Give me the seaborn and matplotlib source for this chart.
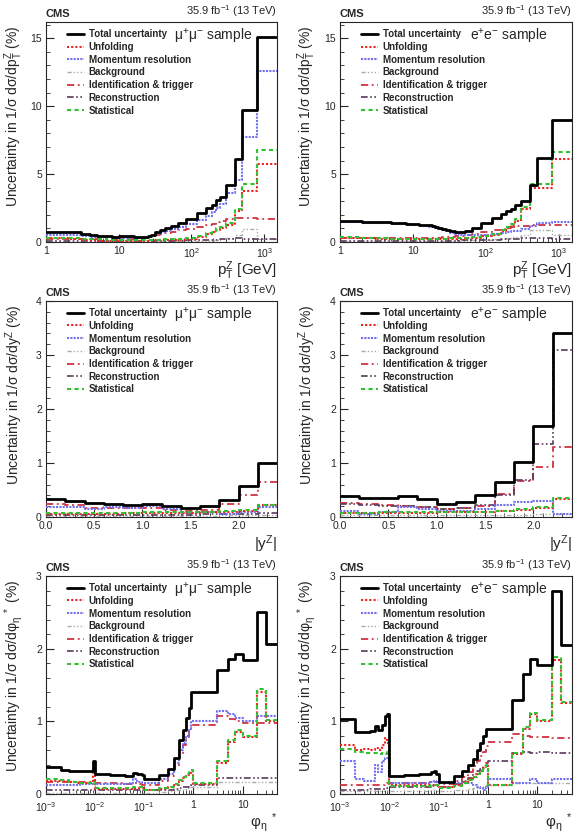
import numpy as np
import pandas as pd
import matplotlib
matplotlib.use("Agg")
import matplotlib.pyplot as plt
from matplotlib.ticker import AutoMinorLocator, FixedLocator, NullFormatter, LogLocator
import seaborn as sns

sns.set_style("ticks")
plt.rcParams['font.family'] = ['Liberation Sans', 'DejaVu Sans']
plt.rcParams['mathtext.fontset'] = 'custom'
plt.rcParams['mathtext.rm'] = 'Liberation Sans'
plt.rcParams['mathtext.it'] = 'Liberation Sans:italic'
plt.rcParams['mathtext.bf'] = 'Liberation Sans:bold'

# ---------------- data ----------------
sources = ["Total uncertainty", "Unfolding", "Momentum resolution", "Background",
           "Identification & trigger", "Reconstruction", "Statistical"]

pt_edges = [1, 2, 3, 4, 5, 6, 7, 8, 9, 10, 11, 12, 13, 14, 16, 18, 20, 22, 25, 28, 32, 37, 43,
            52, 65, 85, 120, 160, 190, 220, 250, 300, 400, 500, 800, 1500]

mu_pt_total = [0.75, 0.72, 0.62, 0.52, 0.46, 0.43, 0.41, 0.40, 0.40, 0.41, 0.42, 0.43, 0.43, 0.42, 0.40,
               0.38, 0.37, 0.38, 0.45, 0.55, 0.70, 0.85, 1.00, 1.15, 1.38, 1.67, 2.11, 2.48, 2.72, 3.09,
               3.34, 4.20, 6.09, 9.72, 15.07]
mu_pt_unf = [0.28, 0.22, 0.15, 0.12, 0.10, 0.10, 0.10, 0.10, 0.10, 0.10, 0.10, 0.10, 0.10, 0.10, 0.10,
             0.10, 0.10, 0.10, 0.10, 0.12, 0.12, 0.13, 0.14, 0.15, 0.18, 0.25, 0.40, 0.58, 0.75, 0.92,
             1.02, 1.25, 2.30, 3.78, 5.74]
mu_pt_mom = [0.55, 0.52, 0.45, 0.40, 0.37, 0.35, 0.34, 0.34, 0.33, 0.33, 0.33, 0.33, 0.32, 0.32, 0.30,
             0.29, 0.28, 0.30, 0.36, 0.45, 0.57, 0.70, 0.82, 0.95, 1.10, 1.30, 1.62, 1.95, 2.20, 2.50,
             2.80, 3.60, 4.60, 7.75, 12.60]
mu_pt_bkg = [0.03, 0.03, 0.03, 0.03, 0.03, 0.03, 0.03, 0.03, 0.03, 0.03, 0.03, 0.03, 0.03, 0.03, 0.03,
             0.03, 0.03, 0.03, 0.03, 0.03, 0.04, 0.04, 0.04, 0.05, 0.05, 0.06, 0.08, 0.10, 0.13, 0.16,
             0.20, 0.30, 0.55, 0.95, 0.25]
mu_pt_id = [0.22, 0.22, 0.21, 0.21, 0.21, 0.21, 0.21, 0.22, 0.22, 0.22, 0.23, 0.23, 0.24, 0.24, 0.25,
            0.27, 0.28, 0.30, 0.35, 0.42, 0.50, 0.58, 0.65, 0.75, 0.85, 0.98, 1.12, 1.25, 1.35, 1.45,
            1.55, 1.68, 1.75, 1.75, 1.72]
mu_pt_rec = [0.08, 0.08, 0.08, 0.08, 0.08, 0.08, 0.08, 0.08, 0.08, 0.08, 0.08, 0.08, 0.08, 0.08, 0.08,
             0.08, 0.08, 0.08, 0.08, 0.09, 0.09, 0.10, 0.10, 0.10, 0.11, 0.12, 0.13, 0.15, 0.17, 0.18,
             0.20, 0.25, 0.30, 0.25, 0.22]
mu_pt_stat = [0.30, 0.28, 0.25, 0.22, 0.20, 0.19, 0.18, 0.18, 0.17, 0.17, 0.17, 0.17, 0.17, 0.17, 0.17,
              0.16, 0.16, 0.16, 0.16, 0.17, 0.18, 0.18, 0.19, 0.20, 0.22, 0.30, 0.45, 0.65, 0.80, 1.00,
              1.10, 1.40, 2.45, 4.27, 6.80]

e_pt_total = [1.55, 1.50, 1.47, 1.44, 1.42, 1.40, 1.38, 1.36, 1.34, 1.32, 1.30, 1.28, 1.27, 1.25, 1.22,
              1.18, 1.12, 1.05, 0.98, 0.90, 0.82, 0.76, 0.75, 0.80, 1.02, 1.40, 1.75, 2.05, 2.25, 2.45,
              2.70, 3.00, 4.20, 6.15, 9.00]
e_pt_unf = [0.30, 0.26, 0.24, 0.23, 0.22, 0.22, 0.22, 0.22, 0.22, 0.22, 0.22, 0.22, 0.22, 0.22, 0.22,
            0.22, 0.22, 0.22, 0.22, 0.22, 0.23, 0.24, 0.25, 0.27, 0.32, 0.42, 0.55, 0.78, 1.00, 1.25,
            1.55, 2.45, 3.95, 4.00, 6.10]
e_pt_mom = [1.45, 1.42, 1.40, 1.37, 1.35, 1.33, 1.31, 1.29, 1.27, 1.25, 1.23, 1.21, 1.19, 1.17, 1.13,
            1.08, 1.02, 0.95, 0.87, 0.78, 0.68, 0.58, 0.50, 0.48, 0.50, 0.52, 0.58, 0.65, 0.72, 0.78,
            0.82, 0.95, 1.15, 1.40, 1.50]
e_pt_bkg = [0.05, 0.05, 0.05, 0.05, 0.05, 0.05, 0.05, 0.05, 0.05, 0.05, 0.05, 0.05, 0.05, 0.05, 0.05,
            0.05, 0.05, 0.05, 0.05, 0.06, 0.06, 0.07, 0.08, 0.10, 0.12, 0.15, 0.20, 0.25, 0.30, 0.35,
            0.40, 0.55, 0.85, 0.85, 0.50]
e_pt_id = [0.30, 0.29, 0.28, 0.28, 0.28, 0.28, 0.28, 0.28, 0.28, 0.28, 0.28, 0.28, 0.29, 0.29, 0.30,
           0.30, 0.31, 0.32, 0.34, 0.36, 0.38, 0.42, 0.46, 0.52, 0.60, 0.70, 0.85, 0.95, 1.05, 1.10,
           1.15, 1.20, 1.25, 1.28, 1.28]
e_pt_rec = [0.10, 0.10, 0.10, 0.10, 0.10, 0.10, 0.10, 0.10, 0.10, 0.10, 0.10, 0.10, 0.10, 0.10, 0.10,
            0.10, 0.10, 0.10, 0.10, 0.10, 0.11, 0.11, 0.12, 0.13, 0.14, 0.15, 0.17, 0.19, 0.21, 0.23,
            0.25, 0.28, 0.30, 0.30, 0.25]
e_pt_stat = [0.35, 0.30, 0.28, 0.26, 0.25, 0.25, 0.24, 0.24, 0.24, 0.24, 0.24, 0.24, 0.24, 0.25, 0.25,
             0.25, 0.25, 0.25, 0.25, 0.25, 0.26, 0.27, 0.28, 0.30, 0.35, 0.45, 0.60, 0.85, 1.10, 1.35,
             1.70, 2.60, 4.25, 4.25, 6.60]

y_edges = [0.0, 0.2, 0.4, 0.6, 0.8, 1.0, 1.2, 1.4, 1.6, 1.8, 2.0, 2.2, 2.4]

mu_y_total = [0.33, 0.30, 0.26, 0.25, 0.23, 0.25, 0.20, 0.17, 0.21, 0.32, 0.58, 1.00]
mu_y_unf = [0.06, 0.06, 0.06, 0.06, 0.07, 0.07, 0.07, 0.08, 0.09, 0.10, 0.12, 0.22]
mu_y_mom = [0.18, 0.18, 0.15, 0.19, 0.17, 0.21, 0.14, 0.08, 0.10, 0.05, 0.10, 0.19]
mu_y_bkg = [0.02, 0.02, 0.02, 0.02, 0.02, 0.02, 0.02, 0.02, 0.02, 0.03, 0.03, 0.04]
mu_y_id = [0.25, 0.22, 0.17, 0.17, 0.16, 0.16, 0.13, 0.11, 0.13, 0.25, 0.40, 0.65]
mu_y_rec = [0.04, 0.04, 0.04, 0.04, 0.04, 0.04, 0.04, 0.04, 0.05, 0.05, 0.06, 0.08]
mu_y_stat = [0.08, 0.08, 0.08, 0.08, 0.08, 0.09, 0.09, 0.09, 0.10, 0.11, 0.13, 0.23]

e_y_total = [0.39, 0.36, 0.35, 0.38, 0.33, 0.25, 0.28, 0.40, 0.64, 1.01, 1.69, 3.40]
e_y_unf = [0.07, 0.07, 0.08, 0.08, 0.08, 0.09, 0.09, 0.09, 0.11, 0.13, 0.17, 0.33]
e_y_mom = [0.12, 0.05, 0.10, 0.19, 0.15, 0.12, 0.12, 0.15, 0.22, 0.27, 0.29, 0.06]
e_y_bkg = [0.03, 0.03, 0.03, 0.03, 0.03, 0.03, 0.03, 0.03, 0.04, 0.04, 0.05, 0.05]
e_y_id = [0.26, 0.24, 0.22, 0.21, 0.18, 0.15, 0.17, 0.21, 0.42, 0.66, 0.92, 1.30]
e_y_rec = [0.25, 0.23, 0.21, 0.20, 0.18, 0.14, 0.16, 0.22, 0.40, 0.68, 1.35, 3.10]
e_y_stat = [0.08, 0.08, 0.09, 0.09, 0.09, 0.10, 0.10, 0.10, 0.12, 0.14, 0.18, 0.35]

phi_edges = [0.001, 0.002, 0.003, 0.004, 0.005, 0.006, 0.007, 0.008, 0.009, 0.01, 0.02, 0.03, 0.04,
             0.05, 0.06, 0.07, 0.08, 0.09, 0.1, 0.2, 0.3, 0.4, 0.5, 0.6, 0.7, 0.8, 0.9, 1, 3, 5, 7,
             10, 20, 30, 50]

mu_phi_total = [0.37, 0.33, 0.31, 0.32, 0.31, 0.32, 0.31, 0.32, 0.45, 0.27, 0.26, 0.26, 0.25, 0.25,
                0.29, 0.27, 0.27, 0.26, 0.20, 0.26, 0.34, 0.50, 0.74, 0.88, 1.05, 1.18, 1.40, 1.41,
                1.71, 1.86, 1.92, 1.84, 2.50, 2.07]
mu_phi_unf = [0.18, 0.18, 0.16, 0.15, 0.15, 0.15, 0.15, 0.15, 0.35, 0.07, 0.07, 0.07, 0.07, 0.07,
              0.08, 0.08, 0.08, 0.08, 0.05, 0.07, 0.09, 0.13, 0.18, 0.22, 0.26, 0.29, 0.31, 0.14,
              0.43, 0.72, 0.85, 0.78, 1.40, 1.00]
mu_phi_mom = [0.13, 0.13, 0.13, 0.13, 0.14, 0.14, 0.14, 0.14, 0.15, 0.14, 0.14, 0.14, 0.14, 0.15,
              0.20, 0.17, 0.16, 0.15, 0.15, 0.20, 0.28, 0.42, 0.60, 0.70, 0.80, 0.90, 1.00, 1.00,
              1.14, 1.10, 1.05, 1.00, 1.08, 1.08]
mu_phi_bkg = [0.02, 0.02, 0.02, 0.02, 0.02, 0.02, 0.02, 0.02, 0.02, 0.02, 0.02, 0.02, 0.02, 0.02,
              0.02, 0.02, 0.02, 0.02, 0.02, 0.03, 0.04, 0.05, 0.06, 0.07, 0.08, 0.09, 0.10, 0.10,
              0.16, 0.16, 0.16, 0.16, 0.16, 0.16]
mu_phi_id = [0.17, 0.17, 0.16, 0.16, 0.16, 0.16, 0.16, 0.16, 0.17, 0.15, 0.15, 0.15, 0.14, 0.14,
             0.15, 0.14, 0.14, 0.13, 0.13, 0.18, 0.25, 0.38, 0.55, 0.68, 0.78, 0.88, 0.95, 0.95,
             1.08, 1.03, 1.00, 0.98, 0.98, 0.98]
mu_phi_rec = [0.05, 0.05, 0.05, 0.05, 0.05, 0.05, 0.05, 0.05, 0.05, 0.05, 0.05, 0.05, 0.05, 0.05,
              0.05, 0.05, 0.05, 0.05, 0.05, 0.05, 0.06, 0.07, 0.08, 0.09, 0.10, 0.11, 0.12, 0.12,
              0.22, 0.22, 0.22, 0.22, 0.22, 0.22]
mu_phi_stat = [0.20, 0.19, 0.17, 0.16, 0.15, 0.15, 0.15, 0.15, 0.16, 0.08, 0.08, 0.08, 0.08, 0.08,
               0.09, 0.09, 0.09, 0.09, 0.05, 0.08, 0.10, 0.14, 0.19, 0.23, 0.27, 0.31, 0.33, 0.15,
               0.45, 0.75, 0.88, 0.80, 1.45, 1.02]

e_phi_total = [1.03, 0.85, 0.86, 0.87, 0.93, 0.88, 0.95, 1.07, 1.10, 0.25, 0.26, 0.26, 0.27, 0.27,
               0.28, 0.30, 0.32, 0.28, 0.17, 0.25, 0.32, 0.40, 0.48, 0.60, 0.70, 0.80, 0.90, 0.90,
               1.30, 1.65, 1.86, 1.77, 2.80, 2.05]
e_phi_unf = [0.67, 0.60, 0.62, 0.60, 0.63, 0.60, 0.68, 0.77, 0.70, 0.12, 0.12, 0.12, 0.12, 0.12,
             0.12, 0.13, 0.13, 0.13, 0.09, 0.12, 0.16, 0.20, 0.24, 0.28, 0.32, 0.36, 0.42, 0.12,
             0.55, 0.90, 1.10, 1.00, 1.85, 1.25]
e_phi_mom = [0.45, 0.20, 0.18, 0.18, 0.40, 0.30, 0.45, 0.50, 0.50, 0.15, 0.15, 0.15, 0.15, 0.15,
             0.15, 0.16, 0.18, 0.16, 0.15, 0.15, 0.15, 0.15, 0.12, 0.10, 0.08, 0.05, 0.10, 0.20,
             0.15, 0.15, 0.20, 0.15, 0.20, 0.20]
e_phi_bkg = [0.04, 0.04, 0.04, 0.04, 0.04, 0.04, 0.04, 0.04, 0.04, 0.04, 0.04, 0.04, 0.04, 0.04,
             0.04, 0.04, 0.04, 0.04, 0.04, 0.05, 0.06, 0.07, 0.08, 0.09, 0.10, 0.11, 0.12, 0.12,
             0.15, 0.15, 0.15, 0.15, 0.15, 0.15]
e_phi_id = [0.12, 0.13, 0.13, 0.13, 0.13, 0.13, 0.13, 0.14, 0.15, 0.15, 0.15, 0.15, 0.15, 0.15,
            0.16, 0.17, 0.17, 0.17, 0.14, 0.18, 0.24, 0.30, 0.38, 0.45, 0.52, 0.58, 0.66, 0.72,
            0.83, 0.80, 0.78, 0.78, 0.77, 0.77]
e_phi_rec = [0.06, 0.06, 0.06, 0.07, 0.07, 0.07, 0.07, 0.07, 0.08, 0.09, 0.09, 0.10, 0.10, 0.10,
             0.10, 0.11, 0.11, 0.11, 0.10, 0.14, 0.18, 0.22, 0.27, 0.31, 0.35, 0.38, 0.42, 0.45,
             0.57, 0.58, 0.56, 0.58, 0.57, 0.57]
e_phi_stat = [0.62, 0.58, 0.57, 0.57, 0.56, 0.55, 0.56, 0.55, 0.60, 0.11, 0.11, 0.11, 0.11, 0.11,
              0.11, 0.12, 0.12, 0.12, 0.08, 0.11, 0.15, 0.19, 0.23, 0.27, 0.31, 0.35, 0.40, 0.12,
              0.56, 0.92, 1.12, 1.02, 1.88, 1.27]

# ---------------- styles ----------------
styles = {
    "Total uncertainty": dict(color="black", lw=2.0, linestyle="-", zorder=10),
    "Unfolding": dict(color="#ee2020", lw=1.5, linestyle=(0, (1, 1)), zorder=6),
    "Momentum resolution": dict(color="#7070f0", lw=1.5, linestyle=(0, (1, 0.6)), zorder=5),
    "Background": dict(color="#aaaaaa", lw=1.0, linestyle=(0, (3, 1.5, 1, 1.5, 1, 1.5, 1, 1.5)), zorder=3),
    "Identification & trigger": dict(color="#d03040", lw=1.3, linestyle=(0, (4, 2, 1, 2)), zorder=4),
    "Reconstruction": dict(color="#5a3a5a", lw=1.2, linestyle=(0, (4, 1.5, 1, 1.5, 1, 1.5)), zorder=4),
    "Statistical": dict(color="#30c030", lw=1.5, linestyle=(0, (2, 1.6)), zorder=7),
}

W, H = 581, 835
fig = plt.figure(figsize=(W / 100, H / 100), dpi=100)

left_cols = [46 / W, 340 / W]
widths = [231 / W, 232 / W]
rows = [(22, 242), (301, 517), (576, 794)]

panels = [
    (0, 0, pt_edges, [mu_pt_total, mu_pt_unf, mu_pt_mom, mu_pt_bkg, mu_pt_id, mu_pt_rec, mu_pt_stat], "mu", "pt"),
    (0, 1, pt_edges, [e_pt_total, e_pt_unf, e_pt_mom, e_pt_bkg, e_pt_id, e_pt_rec, e_pt_stat], "e", "pt"),
    (1, 0, y_edges, [mu_y_total, mu_y_unf, mu_y_mom, mu_y_bkg, mu_y_id, mu_y_rec, mu_y_stat], "mu", "y"),
    (1, 1, y_edges, [e_y_total, e_y_unf, e_y_mom, e_y_bkg, e_y_id, e_y_rec, e_y_stat], "e", "y"),
    (2, 0, phi_edges, [mu_phi_total, mu_phi_unf, mu_phi_mom, mu_phi_bkg, mu_phi_id, mu_phi_rec, mu_phi_stat], "mu", "phi"),
    (2, 1, phi_edges, [e_phi_total, e_phi_unf, e_phi_mom, e_phi_bkg, e_phi_id, e_phi_rec, e_phi_stat], "e", "phi"),
]

ylabels = {
    "pt": r"Uncertainty in 1/σ dσ/dp$_\mathrm{T}^\mathrm{Z}$ (%)",
    "y": r"Uncertainty in 1/σ dσ/dy$^\mathrm{Z}$ (%)",
    "phi": r"Uncertainty in 1/σ dσ/dφ$_\mathrm{η}$$^{\ *}$ (%)",
}
xlabels = {
    "pt": r"p$_\mathrm{T}^\mathrm{Z}$ [GeV]",
    "y": r"|y$^\mathrm{Z}$|",
    "phi": r"φ$_\mathrm{η}$$^{\ *}$",
}
xlab_y = {"pt": -0.08, "y": -0.075, "phi": -0.08}
ylims = {"pt": 16.2, "y": 4.0, "phi": 3.0}
samples = {"mu": r"μ$^{+}$μ$^{-}$ sample", "e": r"e$^{+}$e$^{-}$ sample"}

for r, c, edges, series, samp, var in panels:
    top, bot = rows[r]
    ax = fig.add_axes([left_cols[c], 1 - bot / H, widths[c], (bot - top) / H])
    for name, vals in zip(sources, series):
        df = pd.DataFrame({"x": edges, "y": list(vals) + [vals[-1]]})
        sns.lineplot(data=df, x="x", y="y", ax=ax, estimator=None, sort=False,
                     drawstyle="steps-post", label=name, **styles[name])
    ax.set_ylim(0, ylims[var])
    if var == "pt":
        ax.set_xscale("log")
        ax.set_xlim(1, 1500)
        ax.set_xticks([1, 10, 100, 1000])
        ax.set_xticklabels(["1", "10", r"10$^{2}$", r"10$^{3}$"])
        ax.xaxis.set_minor_locator(LogLocator(base=10, subs=np.arange(2, 10)))
        ax.xaxis.set_minor_formatter(NullFormatter())
        ax.set_yticks([0, 5, 10, 15])
        ax.yaxis.set_minor_locator(FixedLocator(np.arange(0, 16.1, 1)))
    elif var == "y":
        ax.set_xlim(0, 2.4)
        ax.set_xticks([0, 0.5, 1.0, 1.5, 2.0])
        ax.set_xticklabels(["0.0", "0.5", "1.0", "1.5", "2.0"])
        ax.xaxis.set_minor_locator(AutoMinorLocator(5))
        ax.set_yticks([0, 1, 2, 3, 4])
        ax.yaxis.set_minor_locator(AutoMinorLocator(5))
    else:
        ax.set_xscale("log")
        ax.set_xlim(0.001, 50)
        ax.set_xticks([0.001, 0.01, 0.1, 1, 10])
        ax.set_xticklabels([r"10$^{-3}$", r"10$^{-2}$", r"10$^{-1}$", "1", "10"])
        ax.xaxis.set_minor_locator(LogLocator(base=10, subs=np.arange(2, 10)))
        ax.xaxis.set_minor_formatter(NullFormatter())
        ax.set_yticks([0, 1, 2, 3])
        ax.yaxis.set_minor_locator(AutoMinorLocator(5))
    ax.tick_params(which="major", direction="in", length=6, width=0.8, labelsize=7.5, pad=3)
    ax.tick_params(which="minor", direction="in", length=3, width=0.6)
    if var == "phi":
        ax.tick_params(axis="x", which="major", pad=4.5)
    for s in ax.spines.values():
        s.set_linewidth(0.8)
    ax.set_ylabel(ylabels[var], fontsize=10, loc="top")
    ax.yaxis.set_label_coords(-0.093, 0.985)
    ax.set_xlabel(xlabels[var], fontsize=11, loc="right")
    ax.xaxis.set_label_coords(1.0, xlab_y[var])
    ax.text(0.0, 1.015, "CMS", transform=ax.transAxes, fontsize=8, fontweight="bold",
            ha="left", va="bottom")
    ax.text(1.0, 1.015, r"35.9 fb$^{-1}$ (13 TeV)", transform=ax.transAxes, fontsize=8,
            ha="right", va="bottom")
    ax.text(0.895, 0.935, samples[samp], transform=ax.transAxes, fontsize=10,
            ha="right", va="center")
    leg = ax.legend(loc="upper left", bbox_to_anchor=(0.075, 0.985), frameon=False,
                    prop={"size": 7, "weight": "bold"}, handlelength=1.7, handletextpad=0.5,
                    labelspacing=0.28, borderaxespad=0.0)

fig.savefig("out.png", dpi=100)
